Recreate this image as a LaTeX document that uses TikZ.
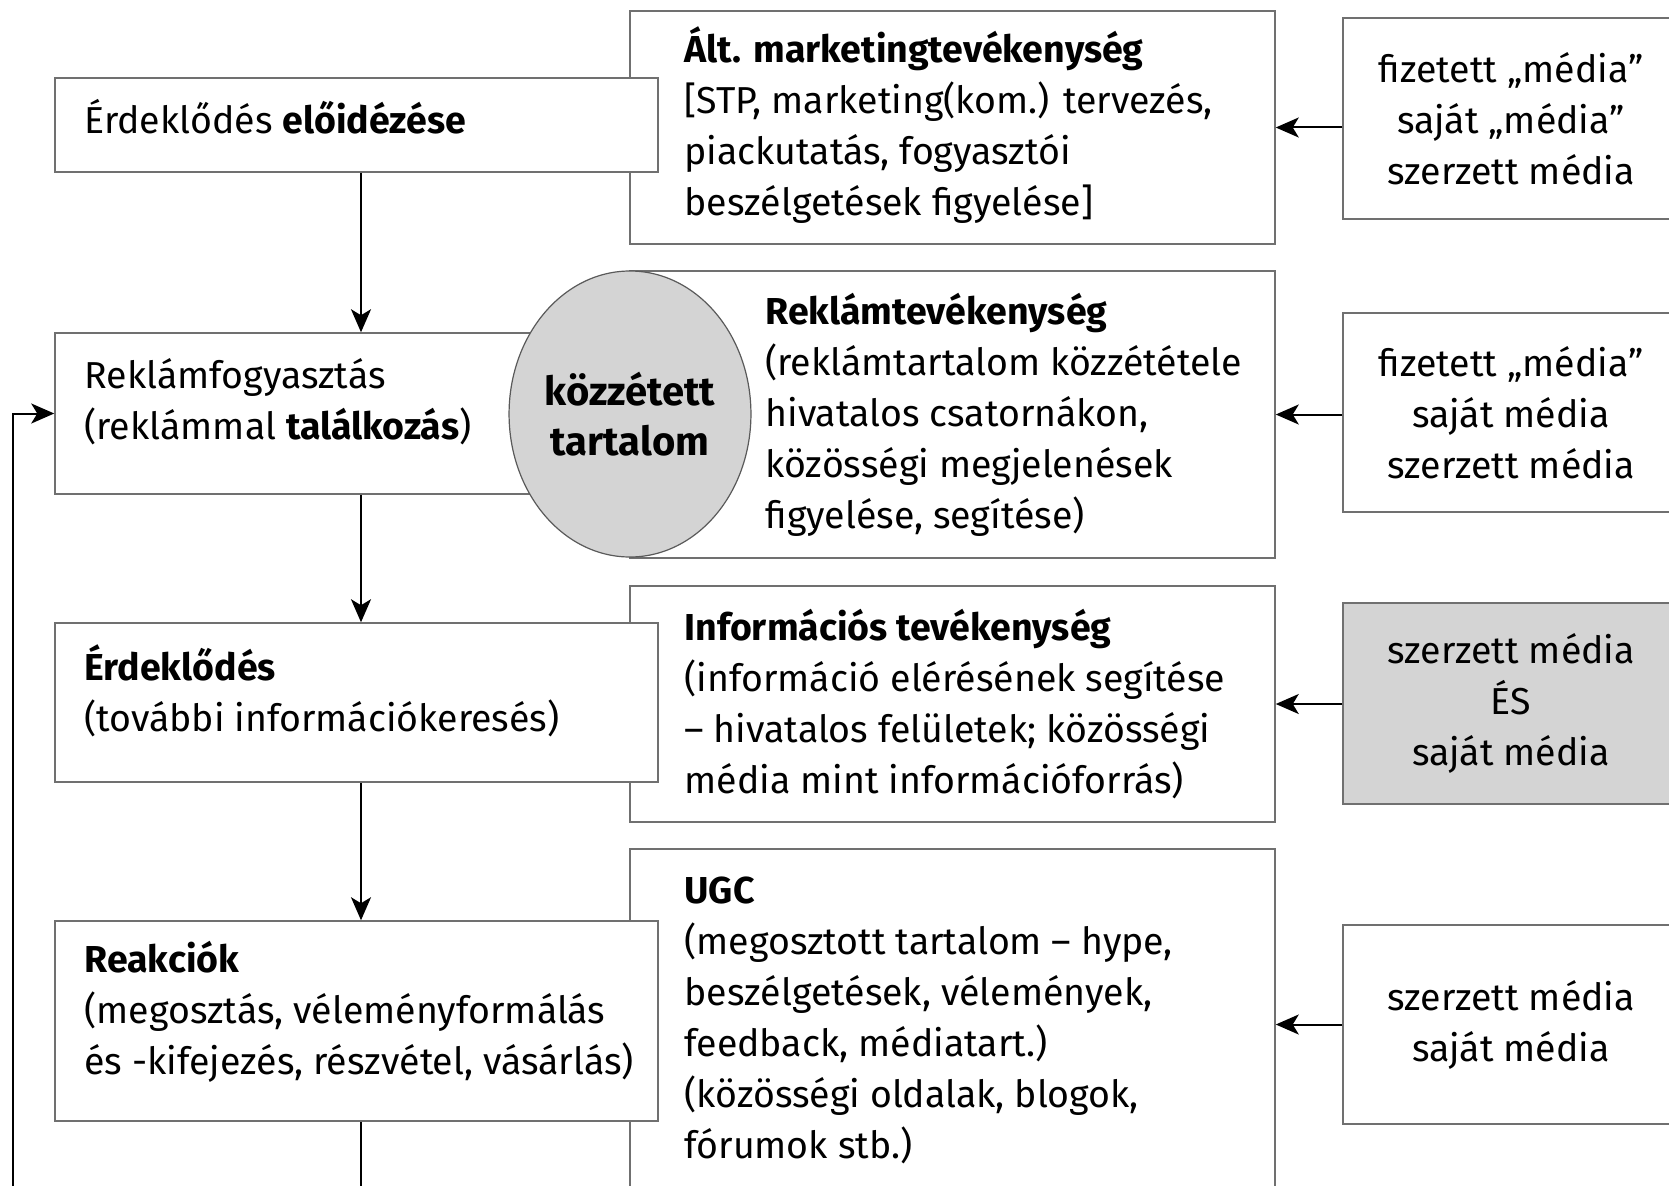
\documentclass[tikz,border=0pt]{standalone}
\usepackage{fontspec}
\setmainfont{Fira Sans}
\usetikzlibrary{arrows.meta,shapes.geometric}
\definecolor{boxline}{RGB}{112,112,112}
\definecolor{lightfill}{RGB}{212,212,212}
\begin{document}
\begin{tikzpicture}[x=1pt,y=-1pt,
  box/.style={draw=boxline, line width=1.5pt, fill=white, inner sep=0pt},
  graybox/.style={box, fill=lightfill},
  txt/.style={align=left, inner sep=0pt, font=\fontsize{37.5}{51}\selectfont},
  ctxt/.style={align=center, font=\fontsize{37.5}{51}\selectfont},
  arr/.style={-{Stealth[length=23pt,width=20pt,inset=6pt]}, line width=2pt, black}]
\path[use as bounding box] (0,0) rectangle (1669,1185);
\clip (0,0) rectangle (1669,1185);
% middle column boxes
\node[box, minimum width=645pt, minimum height=233pt] (M1) at (952.5,127.5) {};
\node[box, minimum width=645pt, minimum height=287pt] (M2) at (952.5,414.5) {};
\node[box, minimum width=645pt, minimum height=236pt] (M3) at (952.5,704) {};
\node[box, minimum width=645pt, minimum height=351pt] (M4) at (952.5,1024.5) {};
% left column boxes (drawn over the middle ones)
\node[box, minimum width=603pt, minimum height=94pt]  (B1) at (356.5,125) {};
\node[box, minimum width=603pt, minimum height=161pt] (B2) at (356.5,413.5) {};
\node[box, minimum width=603pt, minimum height=159pt] (B3) at (356.5,702.5) {};
\node[box, minimum width=603pt, minimum height=200pt] (B4) at (356.5,1021) {};
% right column boxes
\node[box, minimum width=336pt, minimum height=201pt, ctxt] (R1) at (1511,118.5)
  {fizetett „média”\\saját „média”\\szerzett média};
\node[box, minimum width=336pt, minimum height=199pt, ctxt] (R2) at (1511,412.5)
  {fizetett „média”\\saját média\\szerzett média};
\node[graybox, minimum width=336pt, minimum height=201pt, ctxt] (R3) at (1511,703.5)
  {szerzett média\\ÉS\\saját média};
\node[box, minimum width=336pt, minimum height=199pt, ctxt] (R4) at (1511,1024.5)
  {szerzett média\\saját média};
% ellipse
\node[ellipse, draw=boxline!80!black, line width=1.2pt, fill=lightfill,
      minimum width=228pt, minimum height=286pt, inner sep=0pt, align=center,
      font=\fontsize{40}{50}\selectfont] (E) at (630,414)
  {\textbf{közzétett}\\\textbf{tartalom}};
% texts of left boxes
\node[txt, anchor=west] (B1t) at ([xshift=30pt,yshift=8pt]B1.west)
  {Érdeklődés \textbf{előidézése}};
\node[txt, anchor=west] (B2t) at ([xshift=30pt,yshift=12pt]B2.west)
  {Reklámfogyasztás\\(reklámmal \textbf{találkozás})};
\node[txt, anchor=west] (B3t) at ([xshift=30pt,yshift=12pt]B3.west)
  {\textbf{Érdeklődés}\\(további információkeresés)};
\node[txt, anchor=west] (B4t) at ([xshift=30pt,yshift=9pt]B4.west)
  {\textbf{Reakciók}\\(megosztás, véleményformálás\\és -kifejezés, részvétel, vásárlás)};
% texts of middle boxes
\node[txt, anchor=west] (M1t) at ([xshift=55pt,yshift=2pt]M1.west)
  {\textbf{Ált. marketingtevékenység}\\{[}STP, marketing(kom.) tervezés,\\piackutatás, fogyasztói\\beszélgetések figyelése{]}};
\node[txt, anchor=west] (M2t) at ([xshift=136pt]M2.west)
  {\textbf{Reklámtevékenység}\\(reklámtartalom közzététele\\hivatalos csatornákon,\\közösségi megjelenések\\figyelése, segítése)};
\node[txt, anchor=west] (M3t) at ([xshift=55pt]M3.west)
  {\textbf{Információs tevékenység}\\(információ elérésének segítése\\– hivatalos felületek; közösségi\\média mint információforrás)};
\node[txt, anchor=west] (M4t) at ([xshift=55pt,yshift=4pt]M4.west)
  {\textbf{UGC}\\(megosztott tartalom – hype,\\beszélgetések, vélemények,\\feedback, médiatart.)\\(közösségi oldalak, blogok,\\fórumok stb.)};
% vertical flow arrows
\draw[arr] ([xshift=4.5pt]B1.south) -- ([xshift=4.5pt]B2.north);
\draw[arr] ([xshift=4.5pt]B2.south) -- ([xshift=4.5pt]B3.north);
\draw[arr] ([xshift=4.5pt]B3.south) -- ([xshift=4.5pt]B4.north);
% feedback loop
\coordinate (lb) at (13,1210);
\draw[arr] ([xshift=4.5pt]B4.south) -- ([xshift=4.5pt]B4.south |- lb) -- (lb) -- (lb |- B2.west) -- (B2.west);
% media arrows
\draw[arr] (R1.west |- M1.east) -- (M1.east);
\draw[arr] (R2.west |- M2.east) -- (M2.east);
\draw[arr] (R3.west |- M3.east) -- (M3.east);
\draw[arr] (R4.west) -- (M4.east |- R4.west);
\end{tikzpicture}
\end{document}
